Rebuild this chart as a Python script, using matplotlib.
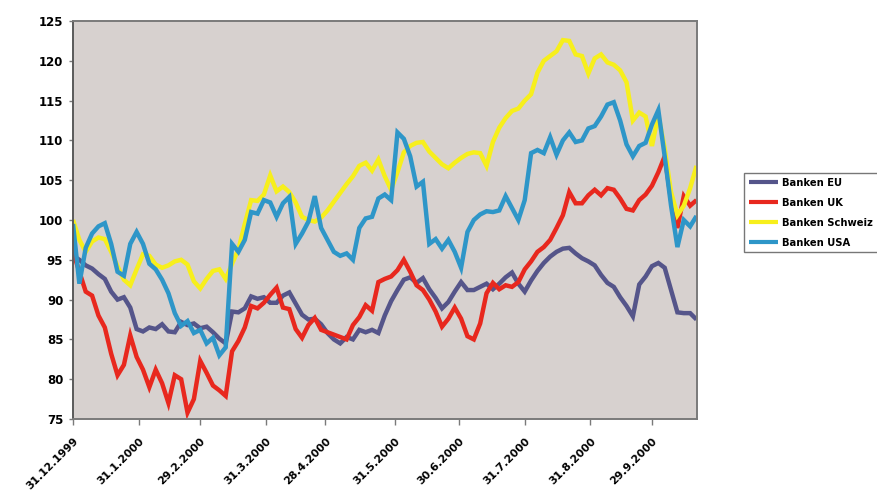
import matplotlib
matplotlib.use("Agg")
import matplotlib.pyplot as plt
import matplotlib.transforms as mtransforms
import pandas as pd

# Index values (31.12.1999 = 100), one value every three calendar days
start_date = "1999-12-31"
step_days = 3

banken_eu = [
    95.5, 95.0, 94.3, 93.9, 93.2, 92.6, 91.0, 90.0, 90.3, 89.0,
    86.3, 86.0, 86.5, 86.3, 86.9, 86.0, 85.9, 87.2, 86.8, 87.0,
    86.4, 86.6, 85.9, 85.1, 84.5, 88.5, 88.4, 88.9, 90.4, 90.1,
    90.3, 89.6, 89.6, 90.5, 90.9, 89.5, 88.1, 87.5, 87.6, 86.9,
    85.8, 85.0, 84.5, 85.3, 85.0, 86.2, 85.9, 86.2, 85.8, 88.0,
    89.8, 91.2, 92.5, 92.8, 92.1, 92.7, 91.3, 90.2, 88.9, 89.7,
    91.0, 92.2, 91.2, 91.2, 91.6, 92.0, 91.3, 92.0, 92.8, 93.4,
    92.0, 91.0, 92.4, 93.6, 94.6, 95.4, 96.0, 96.4, 96.5, 95.8,
    95.2, 94.8, 94.3, 93.1, 92.1, 91.6, 90.3, 89.2, 87.9, 91.9,
    92.9, 94.2, 94.6, 94.0, 91.2, 88.4, 88.3, 88.3, 87.5,
]

banken_uk = [
    96.0, 93.5, 91.0, 90.5, 88.0, 86.5, 83.2, 80.5, 81.8, 85.5,
    82.8, 81.2, 79.0, 81.2, 79.5, 77.0, 80.5, 80.0, 75.8, 77.5,
    82.3, 80.8, 79.2, 78.6, 77.9, 83.5, 84.8, 86.5, 89.2, 88.9,
    89.6, 90.6, 91.5, 89.0, 88.8, 86.3, 85.2, 86.8, 87.7, 86.2,
    85.9, 85.6, 85.3, 85.0, 86.8, 87.8, 89.3, 88.6, 92.2, 92.6,
    92.9, 93.7, 95.0, 93.5, 91.8, 91.2, 90.0, 88.5, 86.6, 87.6,
    89.0, 87.6, 85.4, 85.0, 87.0, 90.8, 92.1, 91.3, 91.8, 91.6,
    92.2, 93.8, 94.8, 96.0, 96.6, 97.5, 99.0, 100.6, 103.5, 102.1,
    102.1, 103.1, 103.8, 103.1, 104.0, 103.8, 102.7, 101.4, 101.2, 102.5,
    103.2, 104.3, 106.0, 108.0, 102.5, 99.0, 103.0, 101.8, 102.5,
]

banken_schweiz = [
    100.0, 97.5, 96.0, 97.3, 97.8, 97.6, 96.0, 94.2, 92.5, 91.8,
    93.8, 95.7, 95.5, 94.4, 94.0, 94.3, 94.8, 95.0, 94.4, 92.3,
    91.4, 92.6, 93.6, 93.8, 92.6, 94.5, 96.3, 99.5, 102.5, 102.4,
    103.2, 105.6, 103.6, 104.2, 103.5, 102.2, 100.4, 100.0, 99.8, 100.3,
    101.2, 102.3, 103.4, 104.5, 105.5, 106.8, 107.2, 106.2, 107.6, 105.5,
    103.8, 106.0, 108.5, 109.3, 109.7, 109.8, 108.6, 107.8, 107.0, 106.5,
    107.2, 107.8, 108.3, 108.5, 108.4, 106.8, 109.8, 111.6, 112.8, 113.7,
    114.0, 115.0, 115.8, 118.5, 120.0, 120.6, 121.2, 122.6, 122.5, 120.8,
    120.6, 118.4, 120.3, 120.8, 119.8, 119.5, 118.8, 117.3, 112.5, 113.5,
    113.0, 109.3, 113.2, 109.0, 103.5, 100.6, 101.8, 104.0, 106.8,
]

banken_usa = [
    99.5, 92.0, 96.5, 98.3, 99.2, 99.6, 97.0, 93.5, 93.0, 97.0,
    98.5, 97.0, 94.5, 93.8, 92.5, 90.8, 88.3, 86.7, 87.3, 85.8,
    86.2, 84.5, 85.2, 83.0, 84.0, 97.0, 96.0, 97.5, 101.0, 100.8,
    102.5, 102.2, 100.4, 102.1, 102.9, 97.0, 98.3, 99.8, 103.0, 99.0,
    97.5, 96.0, 95.5, 95.8, 95.0, 99.0, 100.2, 100.4, 102.7, 103.2,
    102.5, 111.0, 110.2, 108.0, 104.2, 104.8, 97.0, 97.6, 96.4, 97.5,
    96.0, 94.0, 98.5, 100.0, 100.7, 101.1, 101.0, 101.2, 103.0, 101.5,
    100.0, 102.5, 108.4, 108.8, 108.4, 110.4, 108.2, 110.0, 111.0, 109.8,
    110.0, 111.5, 111.8, 113.0, 114.5, 114.8, 112.5, 109.5, 108.0, 109.3,
    109.7, 112.0, 113.8, 108.0, 101.8, 96.6, 100.0, 99.2, 100.5,
]

series_names = ["Banken EU", "Banken UK", "Banken Schweiz", "Banken USA"]
series_colors = ["#55558a", "#e8281e", "#f7ef1c", "#2e96c8"]

tick_labels = [
    "31.12.1999", "31.1.2000", "29.2.2000", "31.3.2000", "28.4.2000",
    "31.5.2000", "30.6.2000", "31.7.2000", "31.8.2000", "29.9.2000",
]
y_ticks = [75, 80, 85, 90, 95, 100, 105, 110, 115, 120, 125]

dates = pd.date_range(start_date, periods=len(banken_eu), freq=f"{step_days}D")
tick_dates = pd.to_datetime(tick_labels, format="%d.%m.%Y")

plt.rcParams["font.family"] = ["DejaVu Sans"]
plt.rcParams["font.weight"] = "bold"

fig = plt.figure(figsize=(8.77, 4.92), dpi=100)
fig.patch.set_facecolor("white")
ax = fig.add_axes([73 / 877, 1 - 419 / 492, (696.5 - 73) / 877, (419 - 21) / 492])
ax.set_facecolor("#d7d1cf")

for values, name, color in zip(
    [banken_eu, banken_uk, banken_schweiz, banken_usa], series_names, series_colors
):
    ax.plot(dates, values, color=color, lw=3.2, label=name,
            solid_joinstyle="miter", solid_capstyle="butt")

ax.set_xlim(dates[0], dates[-1])
ax.set_ylim(75, 125)
ax.set_yticks(y_ticks)
ax.set_yticklabels([str(v) for v in y_ticks], fontsize=8.5, fontweight="bold")
ax.set_xticks(tick_dates)
ax.set_xticklabels(tick_labels, fontsize=7.8, fontweight="bold",
                   rotation=45, ha="right", va="top", rotation_mode="anchor")

# shift the slanted date labels a little left of their ticks
shift = mtransforms.ScaledTranslation(-8 / 100, 0, fig.dpi_scale_trans)
for lbl in ax.get_xticklabels():
    lbl.set_transform(lbl.get_transform() + shift)

for side in ["left", "bottom", "top", "right"]:
    ax.spines[side].set_color("#7a7a7a")
    ax.spines[side].set_linewidth(1.4)
ax.spines["left"].set_color("#5a5a5a")

ax.tick_params(axis="y", length=3, width=1, color="#7a7a7a", pad=4)
ax.tick_params(axis="x", length=4, width=1, color="#7a7a7a", pad=8)

leg = fig.legend(
    loc="upper left", bbox_to_anchor=(744 / 877, 1 - 173 / 492),
    frameon=True, fancybox=False, prop={"size": 7.2, "weight": "bold"},
    handlelength=2.9, handletextpad=0.5, labelspacing=1.0,
    borderpad=0.45, borderaxespad=0.0,
)
leg.get_frame().set_edgecolor("#555555")
leg.get_frame().set_linewidth(1.0)
for line in leg.get_lines():
    line.set_linewidth(3.0)

fig.savefig("out.png", dpi=100, facecolor="white")
